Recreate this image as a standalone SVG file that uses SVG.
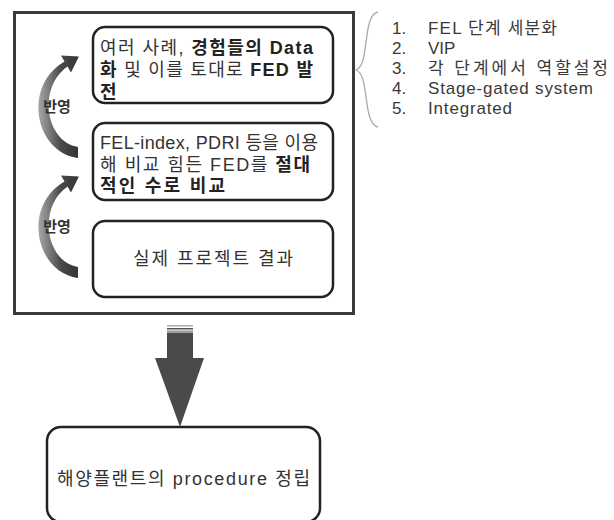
<svg xmlns="http://www.w3.org/2000/svg" width="614" height="520" viewBox="0 0 614 520">
<defs>
<style>
.t{font-family:"Liberation Sans","Noto Sans CJK KR",sans-serif;fill:#333;font-size:18px}
.l{font-family:"Liberation Sans","Noto Sans CJK KR",sans-serif;fill:#3a3a3a;font-size:17px}
.b{font-weight:bold;fill:#222}
.box{fill:#fff;stroke:#222;stroke-width:2.5}
.lbl{font-family:"Liberation Sans","Noto Sans CJK KR",sans-serif;font-weight:bold;font-size:15px;fill:#333}
</style>
<linearGradient id="cg" x1="0" y1="0" x2="1" y2="0">
<stop offset="0" stop-color="#a8a8a8"/>
<stop offset="0.55" stop-color="#4a4a4a"/>
<stop offset="1" stop-color="#333"/>
</linearGradient>
</defs>
<rect width="614" height="520" fill="#fff"/>
<g id="outer">
<rect x="14.5" y="12.5" width="339" height="301" fill="none" stroke="#3a3a3a" stroke-width="3"/>
</g>
<g id="node1">
<rect class="box" x="93" y="27" width="240" height="76" rx="12"/>
<text class="t" x="100" y="54" textLength="213" lengthAdjust="spacing">여러 사례, <tspan class="b">경험들의 Data</tspan></text>
<text class="t" x="100" y="76" textLength="213" lengthAdjust="spacing"><tspan class="b">화</tspan> 및 이를 토대로 <tspan class="b">FED 발</tspan></text>
<text class="t b" x="100" y="98">전</text>
</g>
<g id="node2">
<rect class="box" x="93" y="123" width="240" height="77" rx="12"/>
<text class="t" x="100" y="149" textLength="218" lengthAdjust="spacing">FEL-index,  PDRI 등을 이용</text>
<text class="t" x="100" y="171" textLength="210" lengthAdjust="spacing">해 비교 힘든 FED를 <tspan class="b">절대</tspan></text>
<text class="t b" x="100" y="192" textLength="125" lengthAdjust="spacing">적인 수로 비교</text>
</g>
<g id="node3">
<rect class="box" x="93" y="221" width="240" height="76" rx="12"/>
<text class="t" x="133" y="265" textLength="160" lengthAdjust="spacing">실제 프로젝트 결과</text>
</g>
<g id="node4">
<rect class="box" x="47" y="427" width="273" height="95" rx="14"/>
<text class="t" x="57" y="485" textLength="253" lengthAdjust="spacing">해양플랜트의 procedure 정립</text>
</g>
<g id="list">
<path d="M378,12 C362,14 370,66 356,70 C370,74 362,124 378,127" fill="none" stroke="#aaa" stroke-width="1.3"/>
<text class="l" x="392" y="34">1.<tspan x="428" textLength="129" lengthAdjust="spacing">FEL 단계 세분화</tspan></text>
<text class="l" x="392" y="54">2.<tspan x="428">VIP</tspan></text>
<text class="l" x="392" y="74">3.<tspan x="428" textLength="180" lengthAdjust="spacing">각 단계에서 역할설정</tspan></text>
<text class="l" x="392" y="94">4.<tspan x="428" textLength="165" lengthAdjust="spacing">Stage-gated system</tspan></text>
<text class="l" x="392" y="114">5.<tspan x="428" textLength="84" lengthAdjust="spacing">Integrated</tspan></text>
</g>
<g id="connectors">
<path d="M78,158 C35,152 22,86 64.5,61.4 L61,55.4 L78.9,56.5 L71,72.6 L67.5,66.6 C37,88 46,142 78,147 Z" fill="url(#cg)"/>
<text class="lbl" x="57" y="112" text-anchor="middle">반영</text>
<path d="M78,278 C35,272 22,206 64.5,181.4 L61,175.4 L78.9,176.5 L71,192.6 L67.5,186.6 C37,208 46,262 78,267 Z" fill="url(#cg)"/>
<text class="lbl" x="57" y="232" text-anchor="middle">반영</text>
<rect x="167" y="325" width="26" height="1.5" fill="#aaa"/>
<rect x="167" y="328" width="26" height="1.5" fill="#555"/>
<rect x="167" y="330.5" width="26" height="1.5" fill="#999"/>
<path d="M167,332.5 H193 V358 H204 L180,427 L155,358 H167 Z" fill="#4a4a4a"/>
</g>
</svg>
